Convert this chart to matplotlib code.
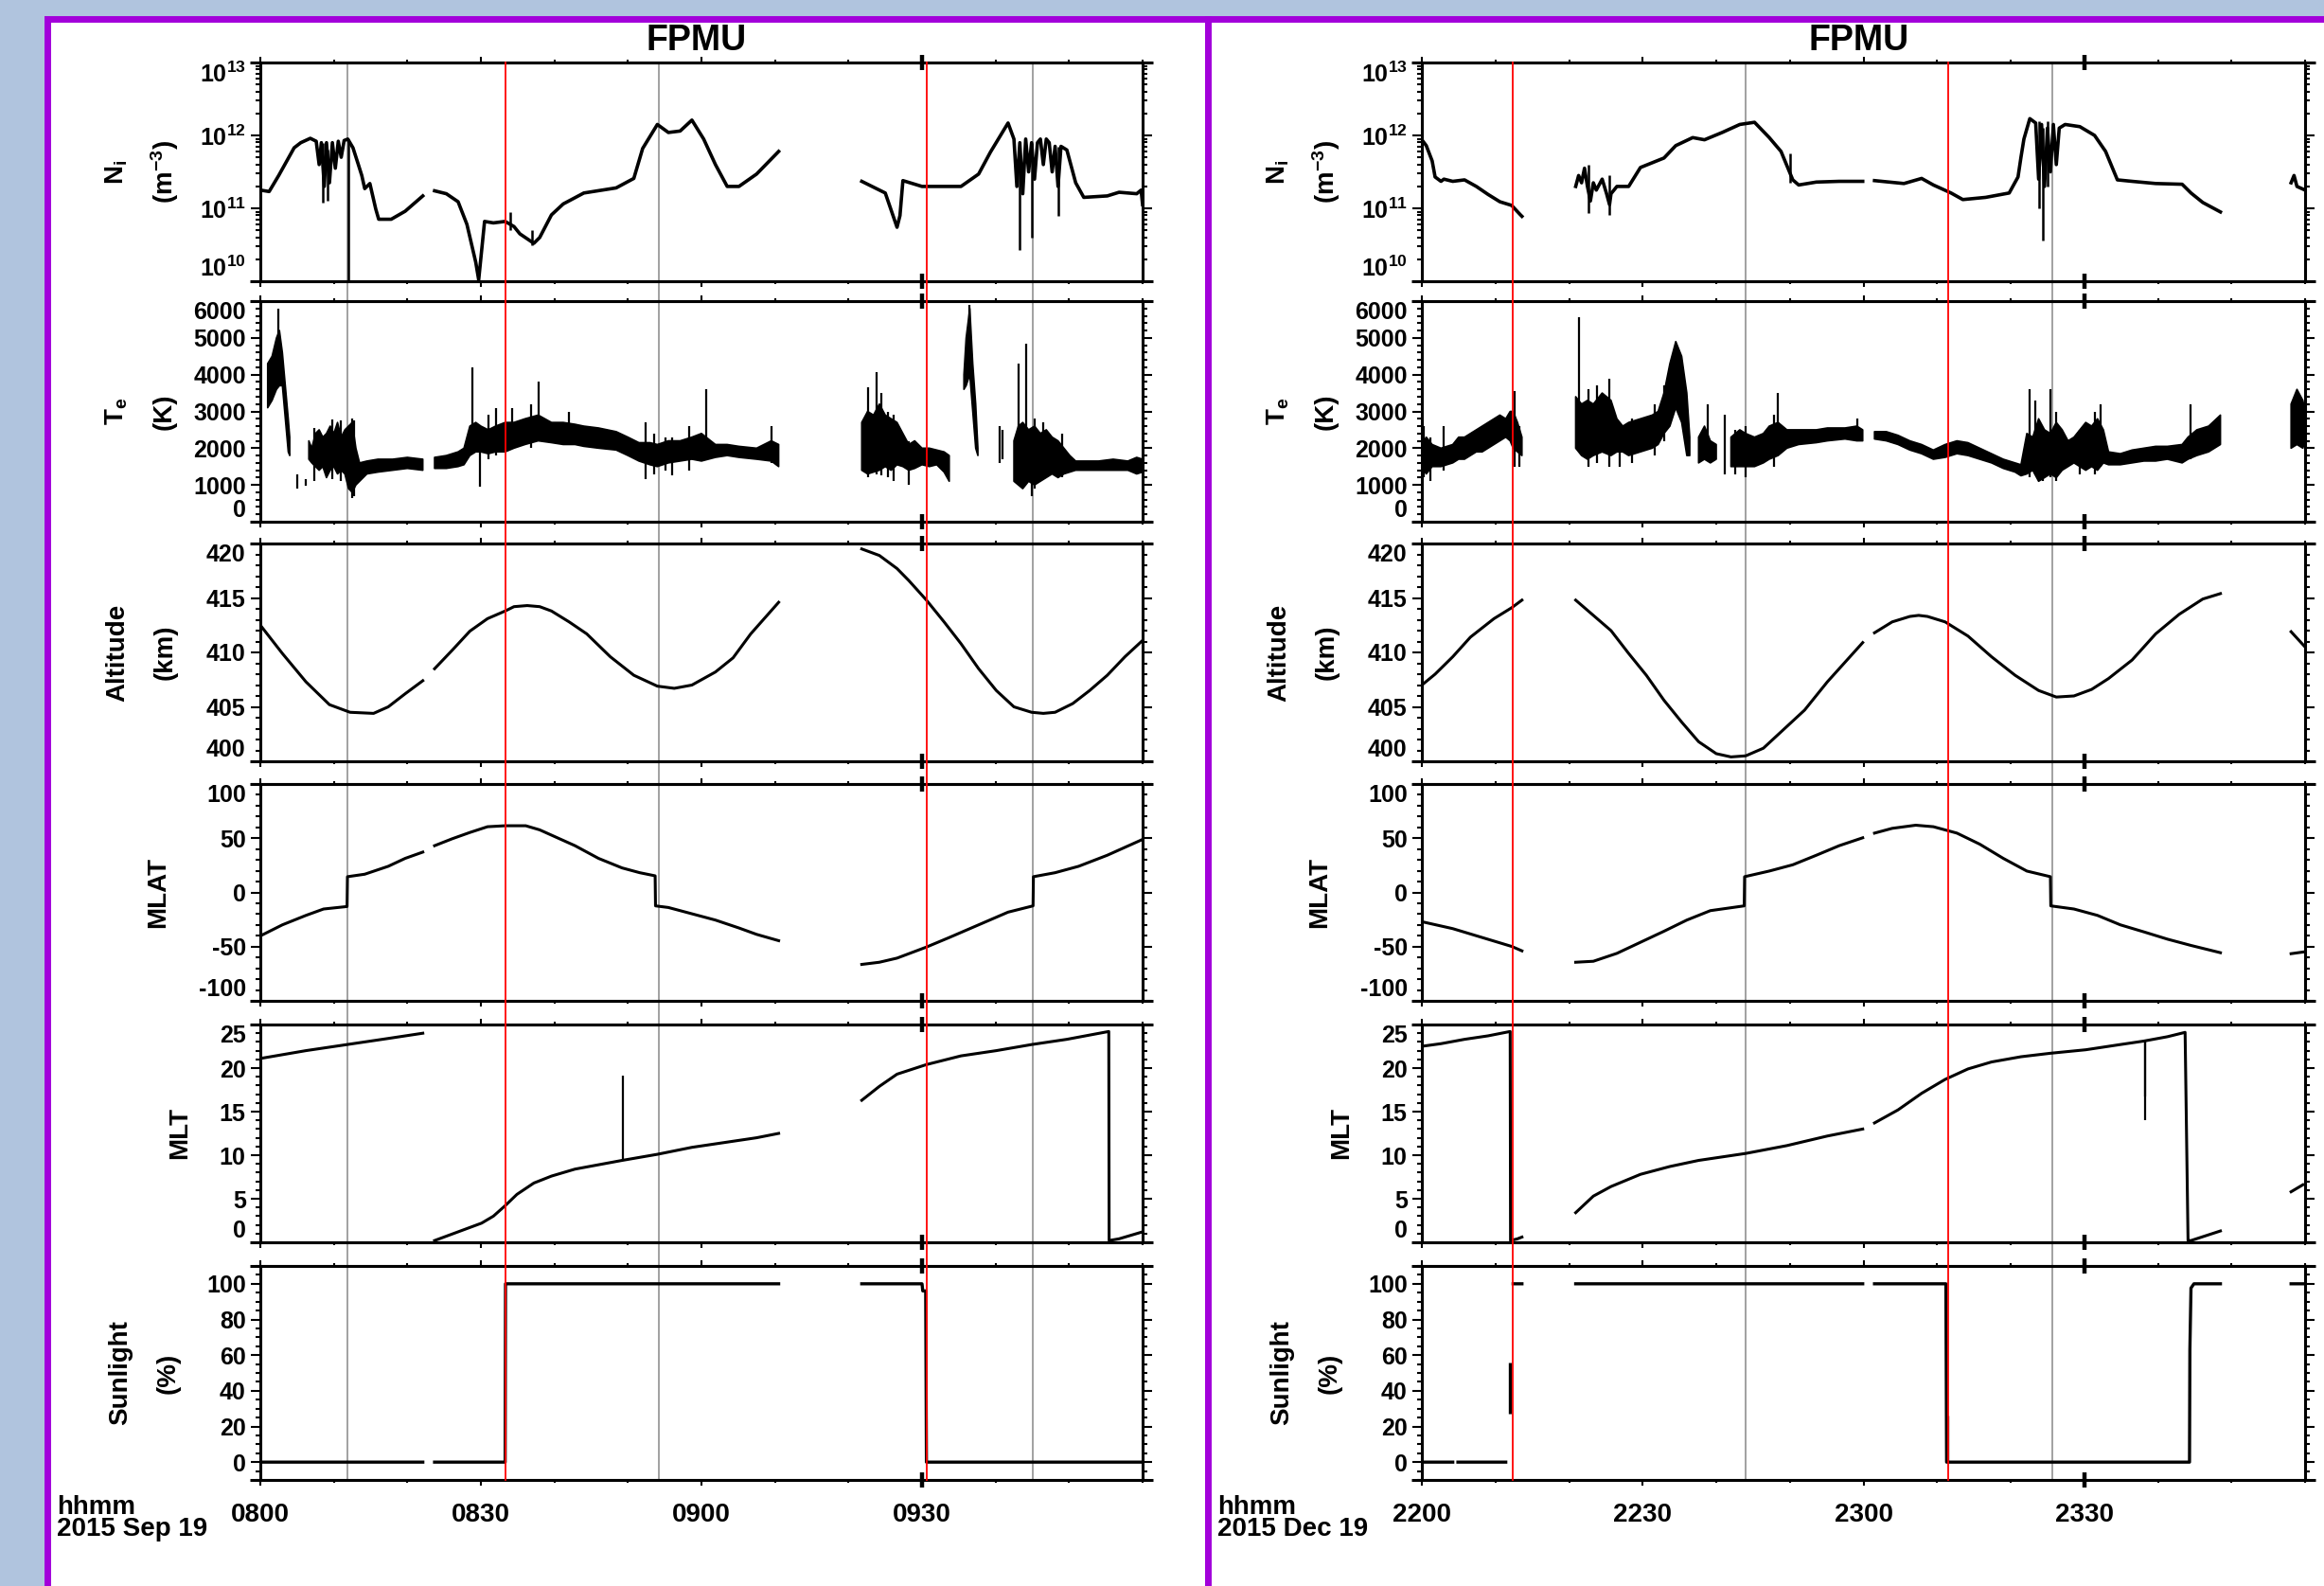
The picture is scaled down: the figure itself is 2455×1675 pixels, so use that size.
import numpy as np
import matplotlib
matplotlib.use("Agg")
import matplotlib.pyplot as plt
import matplotlib.font_manager as fm
from matplotlib.patches import Rectangle
from matplotlib.lines import Line2D
from matplotlib.ticker import FixedLocator, MultipleLocator, LogLocator, NullFormatter
from matplotlib.transforms import blended_transform_factory

nan = np.nan

# ---------------- data (time in minutes after 0800 / 2200) ----------------
L_TIME_LABELS = ["0800", "0830", "0900", "0930"]
R_TIME_LABELS = ["2200", "2230", "2300", "2330"]
L_DATE = "2015 Sep 19"
R_DATE = "2015 Dec 19"

L_RED = [33.3, 90.6]
L_GRAY = [11.9, 54.2, 105.1]
R_RED = [12.4, 71.5]
R_GRAY = [44.0, 85.6]

# Ni (log10 of m^-3)
L_NI_T = [0.0,1.2,2.5,4.6,5.5,6.8,7.6,8.0,8.3,8.7,9.0,9.4,9.8,10.2,10.6,11.0,11.4,11.9,12.6,13.3,
          13.8,14.2,14.9,15.7,16.1,17.8,19.7,22.1,nan,23.7,25.3,26.9,28.1,29.3,29.7,30.5,31.7,33.3,34.5,35.3,
          37.2,38.0,39.6,41.2,44.0,48.4,50.8,52.0,54.0,55.5,57.1,58.7,60.3,61.9,63.5,65.1,67.5,70.5,nan,81.8,
          85.0,86.6,87.0,87.4,90.0,95.3,97.7,99.3,101.7,102.5,102.9,103.3,103.7,104.1,104.5,104.9,105.3,105.7,106.1,106.5,
          106.9,107.3,107.7,108.1,108.5,108.9,109.7,110.5,110.9,112.0,115.2,116.8,119.2,119.8,120.0]
L_NI_LOG = [11.25,11.23,11.45,11.83,11.90,11.96,11.92,11.60,11.90,11.30,11.90,11.35,11.90,11.55,11.92,11.70,11.93,11.95,11.83,11.61,
            11.45,11.27,11.34,10.99,10.85,10.85,10.96,11.17,nan,11.24,11.20,11.09,10.78,10.26,10.02,10.82,10.80,10.82,10.75,10.65,
            10.52,10.60,10.91,11.06,11.21,11.28,11.41,11.82,12.15,12.04,12.06,12.21,11.95,11.60,11.30,11.30,11.47,11.78,nan,11.37,
            11.21,10.74,10.90,11.38,11.30,11.30,11.47,11.77,12.17,11.95,11.30,11.90,11.20,11.95,11.50,11.90,11.40,11.90,11.95,11.60,
            11.95,11.90,11.50,11.85,11.30,11.85,11.80,11.50,11.35,11.15,11.17,11.22,11.20,11.25,11.05]
L_NI_SPK = [(8.5, 11.08, 11.90), (9.2, 11.10, 11.80), (12.0, 10.0, 11.95), (34.0, 10.70, 10.95),
            (37.0, 10.50, 10.70), (103.3, 10.43, 11.90), (104.9, 10.60, 11.90), (108.5, 10.90, 11.85)]

R_NI_T = [0.0,0.6,1.4,1.8,2.2,2.6,3.0,4.2,5.8,7.4,9.0,10.6,12.2,13.4,13.6,nan,20.9,21.3,21.7,22.1,
          22.5,22.9,23.3,23.7,24.5,25.1,25.5,25.7,26.5,28.1,29.7,32.9,34.5,36.8,38.4,40.8,43.2,45.2,47.2,48.8,
          50.4,51.2,53.6,56.7,59.9,nan,61.5,65.5,67.9,69.5,71.9,73.5,76.6,79.8,81.0,81.4,81.8,82.6,83.4,83.8,
          84.2,84.6,85.0,85.4,85.8,86.2,86.6,87.4,89.4,91.4,92.9,94.5,96.5,99.7,103.3,104.5,106.1,108.5,nan,118.1,
          118.5,118.9,120.0]
R_NI_LOG = [11.94,11.86,11.65,11.43,11.40,11.37,11.40,11.37,11.39,11.30,11.19,11.09,11.04,10.91,10.89,nan,11.30,11.45,11.35,11.55,
            11.30,11.10,11.35,11.25,11.40,11.20,11.05,11.20,11.30,11.30,11.56,11.69,11.86,11.97,11.94,12.04,12.15,12.18,11.97,11.78,
            11.39,11.32,11.36,11.37,11.37,nan,11.38,11.34,11.41,11.32,11.21,11.12,11.15,11.21,11.43,11.70,11.95,12.23,12.17,11.40,
            12.15,11.30,12.10,11.50,12.15,11.60,12.10,12.15,12.12,12.00,11.78,11.39,11.37,11.34,11.33,11.21,11.08,10.95,nan,11.35,
            11.45,11.30,11.25]
R_NI_SPK = [(22.7, 10.93, 11.60), (25.5, 10.91, 11.45), (50.0, 11.35, 11.75),
            (83.8, 11.00, 12.20), (84.4, 10.56, 12.10), (85.0, 11.30, 12.20)]

# Te (K): band of low / high values, plus isolated spikes
L_TE_T = [1.0,1.6,2.2,2.6,3.0,3.4,3.8,4.0,nan,
          6.6,7.0,7.5,8.0,8.5,9.0,9.5,10.0,10.5,11.0,11.5,12.0,12.5,13.0,13.5,14.5,16.0,18.0,20.0,22.1,nan,
          23.7,25.3,26.9,27.7,28.5,29.3,30.0,31.0,32.0,33.3,34.5,36.0,37.8,39.6,41.2,42.8,44.0,46.0,48.4,50.0,
          51.5,53.0,54.0,55.5,57.1,58.7,60.0,61.9,63.5,65.1,67.5,69.5,70.5,nan,
          81.8,82.6,83.4,84.2,85.0,85.8,86.6,87.4,88.2,89.0,90.0,91.0,92.0,93.0,93.7,nan,
          95.7,96.0,96.5,96.9,97.3,97.6,nan,
          102.5,103.1,103.7,104.5,105.3,106.1,106.9,107.7,108.5,109.3,110.1,110.9,112.0,114.0,116.0,118.0,119.2,120.0]
L_TE_LO = [3100,3300,3600,3700,3700,2800,1900,1800,nan,
           1700,1600,1500,1400,1500,1200,1400,1500,1300,1400,1300,900,800,1000,1100,1300,1350,1400,1450,1400,nan,
           1450,1450,1500,1550,1800,1900,1900,1850,1900,1900,2000,2100,2200,2150,2100,2100,2050,2000,1950,1800,
           1650,1550,1500,1600,1650,1700,1650,1750,1800,1750,1700,1650,1500,nan,
           1400,1300,1350,1400,1500,1400,1550,1500,1400,1450,1550,1500,1550,1350,1100,nan,
           3600,3700,4000,3000,2000,1800,nan,
           1100,1000,900,1100,1000,1100,1200,1300,1200,1300,1350,1400,1400,1400,1400,1400,1300,1350]
L_TE_HI = [4300,4500,5000,5200,4600,3700,2800,2300,nan,
           2200,2000,2400,2500,2300,2400,2600,2400,2700,2300,2500,2600,2700,2000,1600,1650,1700,1700,1750,1700,nan,
           1750,1800,1900,2000,2600,2700,2600,2500,2600,2700,2700,2800,2900,2700,2700,2650,2600,2550,2450,2300,
           2150,2150,2100,2200,2200,2300,2400,2100,2100,2050,2000,2200,2100,nan,
           2700,3000,2900,3200,2900,2800,2700,2400,2100,2200,2000,2000,1950,1900,1800,nan,
           4000,5000,5800,4300,3200,2000,nan,
           2200,2600,2700,2500,2600,2400,2500,2300,2200,2000,1800,1650,1650,1650,1700,1650,1750,1700]
L_TE_SPK = [(2.4,4500,5800),(5.0,900,1280),(6.2,980,1150),(7.3,1100,2550),(9.8,1150,2780),(11.0,1100,2750),
            (12.5,650,2800),(12.8,700,2750),(28.9,1900,4200),(29.9,950,2300),(31.0,1700,2900),(32.0,1800,3100),
            (34.2,2000,3100),(36.8,2000,3200),(37.8,2400,3800),(42.0,2200,3000),(52.4,1150,2700),(53.5,1300,2400),
            (55.1,1400,2300),(56.0,1250,2300),(58.3,1400,2600),(60.7,2000,3600),(69.5,1600,2600),(82.6,1200,3650),
            (83.8,1300,4070),(84.4,1250,3500),(85.4,1200,3000),(86.2,1100,2900),(88.2,1000,2200),(96.4,4500,5900),
            (100.6,1600,2600),(100.9,1700,2500),(103.1,1100,4300),(104.1,1200,4850),(104.9,700,2400),(105.3,900,2800),
            (106.5,1300,2700),(109.0,1200,2400)]

R_TE_T = [0.0,0.6,1.4,2.6,4.2,5.0,5.8,6.6,7.4,8.2,9.0,9.8,10.6,11.4,12.0,12.4,13.0,13.6,nan,
          20.9,21.7,22.5,23.3,24.5,25.7,26.5,27.3,28.1,29.7,31.3,32.1,32.9,33.7,34.5,35.3,36.0,36.4,nan,
          37.6,38.4,39.2,40.0,nan,
          42.0,43.2,44.0,45.2,46.4,47.2,48.4,49.6,51.2,53.6,55.1,57.5,59.1,59.9,nan,
          61.5,63.1,64.7,66.3,67.9,69.5,71.1,72.7,74.2,75.8,77.4,79.0,80.6,81.4,82.2,83.0,83.8,84.6,85.4,86.2,
          87.0,87.8,88.6,89.4,90.2,91.0,91.8,92.6,93.3,94.9,96.5,98.1,99.7,101.3,103.3,104.1,105.3,106.9,108.5,nan,
          118.1,118.9,119.7,120.0]
R_TE_LO = [1500,1300,1500,1500,1600,1700,1700,1800,1900,1900,2000,2100,2200,2300,2200,2000,1900,1800,nan,
           2000,1800,1700,1800,1900,1800,1900,1900,1800,1900,2000,2100,2400,2600,3100,2700,1800,1800,nan,
           1600,1700,1600,1700,nan,
           1500,1500,1500,1500,1600,1700,1800,2000,2100,2150,2200,2250,2200,2200,nan,
           2250,2200,2100,1950,1850,1700,1750,1850,1800,1700,1600,1450,1350,1250,1300,1400,1100,1200,1300,1200,
           1400,1500,1600,1500,1400,1500,1400,1600,1550,1550,1600,1650,1650,1700,1600,1700,1800,1900,2100,nan,
           2000,2100,2000,2200]
R_TE_HI = [2100,2300,2100,2000,2100,2300,2300,2400,2500,2600,2700,2800,2900,2800,3000,3000,2700,2300,nan,
           3400,3200,3300,3200,3500,3300,2800,2600,2700,2800,2900,3000,3500,4300,4900,4500,3500,2300,nan,
           2300,2600,2200,2100,nan,
           2300,2500,2400,2300,2400,2600,2700,2500,2500,2500,2550,2550,2600,2500,nan,
           2450,2450,2350,2200,2100,1950,2100,2200,2150,2000,1850,1700,1600,1550,2400,2300,2800,2500,2400,2700,
           2500,2200,2300,2500,2700,2600,2800,2500,1900,1850,1950,2000,2050,2050,2100,2300,2500,2600,2900,nan,
           3200,3600,3300,3000]
R_TE_SPK = [(0.3,1200,2600),(1.2,1100,2300),(3.0,1400,2600),(12.6,1500,3550),(13.2,1500,2600),(21.3,2000,5550),
            (22.7,1500,3600),(23.8,1600,3700),(25.5,1500,3900),(26.9,1500,2600),(28.5,1600,2800),(31.7,1800,3200),
            (32.9,2200,3700),(38.8,2000,3200),(41.2,1300,2900),(42.6,1300,2500),(44.0,1200,2600),(47.8,1500,2900),
            (48.4,2000,3500),(59.1,2200,2800),(82.6,1200,3600),(83.4,1300,3300),(84.4,1100,2000),(85.4,1200,3600),
            (86.2,1100,3000),(89.4,1300,2500),(91.4,1300,3000),(92.2,1500,3200),(104.5,1700,3200)]

# Altitude (km)
L_ALT_T = [0.0,3.0,6.2,9.4,12.2,15.4,17.4,19.7,22.1,nan,23.7,26.1,28.5,30.9,33.3,34.5,36.3,38.0,39.6,42.0,
           44.4,47.6,50.8,54.0,56.3,58.7,61.9,64.3,66.7,70.5,nan,81.8,84.2,86.6,88.2,90.6,93.0,95.3,97.7,100.1,
           102.5,104.9,106.5,108.1,110.5,112.8,115.2,117.6,120.0]
L_ALT = [412.5,409.9,407.3,405.2,404.5,404.4,405.0,406.2,407.4,nan,408.5,410.2,411.95,413.1,413.8,414.2,414.3,414.2,413.8,412.8,
         411.7,409.6,407.9,406.9,406.7,407.0,408.2,409.5,411.7,414.6,nan,419.5,418.9,417.7,416.6,414.8,412.8,410.8,408.5,406.5,
         405.0,404.5,404.4,404.5,405.3,406.5,407.9,409.6,411.1]
R_ALT_T = [0.0,1.8,4.2,6.6,9.8,12.2,13.6,nan,20.9,23.3,25.7,28.1,30.5,32.9,35.3,37.6,40.0,42.0,44.0,46.4,
           48.8,52.0,55.1,57.5,59.9,nan,61.5,63.9,66.3,67.5,68.7,71.1,74.2,77.4,80.6,83.8,86.2,88.6,91.0,93.3,
           96.5,99.7,102.9,106.1,108.5,nan,118.1,120.0]
R_ALT = [407.0,408.0,409.6,411.4,413.1,414.1,414.8,nan,414.8,413.4,412.0,409.9,407.9,405.6,403.6,401.8,400.7,400.4,400.5,401.2,
         402.7,404.7,407.3,409.1,410.9,nan,411.8,412.8,413.3,413.4,413.3,412.8,411.5,409.6,407.9,406.5,405.9,406.0,406.6,407.6,
         409.3,411.7,413.5,414.9,415.4,nan,411.9,410.5]

# MLAT (deg)
L_MLAT_T = [0.0,3.0,6.2,8.6,11.8,11.85,14.2,17.4,19.7,22.1,nan,23.7,26.1,28.5,30.9,33.3,36.1,38.0,40.4,42.8,
            46.0,49.2,51.6,53.7,53.75,55.5,58.7,61.9,65.1,67.5,70.5,nan,81.8,84.2,86.6,90.6,93.7,97.7,101.7,105.1,
            105.15,108.1,111.3,115.2,117.6,120.0]
L_MLAT = [-40.1,-29.9,-21.2,-15.3,-13.0,14.5,16.8,24.1,31.4,37.2,nan,43.1,49.5,55.3,60.6,61.5,61.5,57.7,50.4,43.1,
          31.4,22.6,18.2,15.3,-12.4,-13.9,-19.7,-25.5,-32.8,-38.7,-44.5,nan,-66.4,-64.4,-60.6,-50.4,-41.6,-29.9,-18.2,-12.4,
          14.5,18.2,24.1,34.3,41.6,48.9]
R_MLAT_T = [0.0,4.2,8.2,12.2,13.6,nan,20.9,23.3,26.5,29.7,32.9,36.0,39.2,43.8,43.85,47.2,50.4,53.6,56.7,59.9,
            nan,61.5,63.9,67.1,69.5,72.7,75.8,79.0,82.2,85.4,85.45,88.6,91.8,94.9,98.1,101.3,104.5,108.5,nan,118.1,
            119.7]
R_MLAT = [-27.0,-33.4,-41.6,-49.8,-53.9,nan,-64.4,-63.5,-56.2,-46.0,-35.8,-25.5,-16.8,-12.4,14.5,19.7,25.5,34.3,43.1,50.4,
          nan,54.7,59.1,62.0,60.6,54.7,44.5,31.4,19.7,14.5,-12.4,-15.3,-21.2,-29.9,-36.4,-43.1,-48.9,-55.6,nan,-56.5,
          -55.0]

# MLT (h)
L_MLT_T = [0.0,6.2,11.8,17.4,22.1,nan,23.7,26.9,30.1,31.7,33.3,34.9,37.2,39.6,42.8,46.0,49.2,54.0,58.7,63.5,
           67.5,70.5,nan,81.8,84.2,86.6,90.6,95.3,100.1,104.9,109.7,115.4,115.45,116.8,120.0]
L_MLT = [21.1,22.0,22.7,23.4,24.0,nan,0.2,1.2,2.2,3.0,4.2,5.5,6.8,7.6,8.4,8.9,9.4,10.1,10.9,11.5,
         12.0,12.5,nan,16.3,17.9,19.3,20.4,21.4,22.0,22.7,23.3,24.2,0.2,0.4,1.2]
L_MLT_SPK = [(49.35, 9.4, 19.1)]
R_MLT_T = [0.0,2.6,5.8,9.0,11.4,12.0,12.05,13.0,13.6,nan,20.9,23.3,25.7,29.7,33.7,37.6,44.0,49.6,55.1,59.9,
           nan,61.5,64.7,67.9,71.1,74.2,77.4,81.4,85.4,90.2,94.9,98.1,101.3,103.7,104.1,104.5,108.5,nan,118.1,119.7]
R_MLT = [22.5,22.8,23.3,23.7,24.1,24.2,0.2,0.4,0.6,nan,3.4,5.3,6.4,7.8,8.7,9.4,10.2,11.1,12.2,13.0,
         nan,13.7,15.2,17.1,18.7,19.9,20.7,21.3,21.7,22.1,22.7,23.1,23.6,24.1,0.2,0.2,1.3,nan,5.8,6.6]
R_MLT_SPK = [(98.3, 14.0, 23.1), (98.25, 16.7, 23.1)]

# Sunlight (%)
L_SUN_T = [0.0,22.1,nan,23.7,33.3,33.35,70.5,nan,81.8,90.0,90.1,90.5,90.6,120.0]
L_SUN = [0,0,nan,0,0,100,100,nan,100,100,96,96,0,0]
L_SUN_SPK = []
R_SUN_T = [0.0,4.2,nan,4.9,11.4,nan,12.4,13.6,nan,20.9,59.9,nan,61.5,71.2,71.3,104.3,104.35,104.5,104.9,108.5,nan,118.1,120.0]
R_SUN = [0,0,nan,0,0,nan,100,100,nan,100,100,nan,100,100,0,0,63,97.6,100,100,nan,100,100]
R_SUN_SPK = [(12.0, 27.4, 55.6), (71.4, 0, 26)]

# ---------------- style / layout ----------------
W, H = 2455, 1675
avail = {f.name for f in fm.fontManager.ttflist}
FONT = next((f for f in ["Liberation Sans", "Arial", "DejaVu Sans"] if f in avail), "DejaVu Sans")
plt.rcParams["font.family"] = [FONT, "DejaVu Sans"]
plt.rcParams["font.weight"] = "bold"
plt.rcParams["mathtext.fontset"] = "custom"
plt.rcParams["mathtext.rm"] = FONT + ":bold"
plt.rcParams["mathtext.bf"] = FONT + ":bold"
plt.rcParams["mathtext.it"] = FONT + ":bold"
plt.rcParams["mathtext.default"] = "bf"
plt.rcParams["axes.unicode_minus"] = False

BG = "#B0C4DE"
PURPLE = "#A200DA"
TICK_FS = 18
LAB_FS = 20
DIVIDER = 1275.5

fig = plt.figure(figsize=(W / 100, H / 100), dpi=100, facecolor=BG)

def fx(px):
    return px / W

def fy(py):
    return 1 - py / H

# frames
fig.add_artist(Rectangle((fx(49.5), fy(1720)), fx(DIVIDER) - fx(49.5), (1720 - 19.5) / H,
                         transform=fig.transFigure, facecolor="white", edgecolor=PURPLE,
                         lw=5.0, zorder=-3))
fig.add_artist(Rectangle((fx(DIVIDER), fy(1720)), fx(2520) - fx(DIVIDER), (1720 - 19.5) / H,
                         transform=fig.transFigure, facecolor="white", edgecolor=PURPLE,
                         lw=5.0, zorder=-3))

TOPS = [66, 318, 574, 828, 1082, 1337]
BOTS = [297, 551, 804, 1057, 1312, 1563]

YCFG = {
    "Ni": dict(lim=(1e10, 1e13), major=[1e10, 1e11, 1e12, 1e13], log=True,
               labels=[r"$10^{10}$", r"$10^{11}$", r"$10^{12}$", r"$10^{13}$"], nudge=True,
               ylab=[(r"N$_{i}$", 123), (r"(m$^{-3}$)", 174)]),
    "Te": dict(lim=(0, 6000), major=list(range(0, 6001, 1000)), minor=200, nudge=True,
               labels=[str(v) for v in range(0, 6001, 1000)],
               ylab=[(r"T$_{e}$", 123), ("(K)", 174)]),
    "Alt": dict(lim=(400, 420), major=[400, 405, 410, 415, 420], minor=1, nudge=True,
                labels=["400", "405", "410", "415", "420"],
                ylab=[("Altitude", 124), ("(km)", 175)]),
    "MLAT": dict(lim=(-100, 100), major=[-100, -50, 0, 50, 100], minor=10, nudge=True,
                 labels=["-100", "-50", "0", "50", "100"], ylab=[("MLAT", 167)]),
    "MLT": dict(lim=(0, 25), major=[0, 5, 10, 15, 20, 25], minor=1, nudge=True,
                labels=["0", "5", "10", "15", "20", "25"], ylab=[("MLT", 190)]),
    "Sun": dict(lim=(-10, 110), major=[0, 20, 40, 60, 80, 100], minor=5, nudge=False,
                labels=["0", "20", "40", "60", "80", "100"],
                ylab=[("Sunlight", 127), ("(%)", 178)]),
}
ORDER = ["Ni", "Te", "Alt", "MLAT", "MLT", "Sun"]

SIDES = [
    dict(x0=275, x1=1207, dx=0, tlabels=L_TIME_LABELS, date=L_DATE, hx=60, red=L_RED, gray=L_GRAY,
         ni=(L_NI_T, L_NI_LOG, L_NI_SPK), te=(L_TE_T, L_TE_LO, L_TE_HI, L_TE_SPK),
         alt=(L_ALT_T, L_ALT), mlat=(L_MLAT_T, L_MLAT), mlt=(L_MLT_T, L_MLT, L_MLT_SPK),
         sun=(L_SUN_T, L_SUN, L_SUN_SPK)),
    dict(x0=1502, x1=2435, dx=1227, tlabels=R_TIME_LABELS, date=R_DATE, hx=1286, red=R_RED, gray=R_GRAY,
         ni=(R_NI_T, R_NI_LOG, R_NI_SPK), te=(R_TE_T, R_TE_LO, R_TE_HI, R_TE_SPK),
         alt=(R_ALT_T, R_ALT), mlat=(R_MLAT_T, R_MLAT), mlt=(R_MLT_T, R_MLT, R_MLT_SPK),
         sun=(R_SUN_T, R_SUN, R_SUN_SPK)),
]

def spikes(ax, spk, lw=1.6, logv=False):
    if not spk:
        return
    t = [s[0] for s in spk]
    lo = np.array([s[1] for s in spk], float)
    hi = np.array([s[2] for s in spk], float)
    if logv:
        lo, hi = 10 ** lo, 10 ** hi
    ax.vlines(t, lo, hi, color="k", lw=lw, zorder=3)

for side in SIDES:
    axes = []
    for i, key in enumerate(ORDER):
        top, bot = TOPS[i], BOTS[i]
        ax = fig.add_axes([fx(side["x0"]), fy(bot), (side["x1"] - side["x0"]) / W, (bot - top) / H])
        ax.set_facecolor("none")
        cfg = YCFG[key]
        ax.set_xlim(0, 120)
        if cfg.get("log"):
            ax.set_yscale("log")
            ax.yaxis.set_minor_locator(LogLocator(base=10, subs=np.arange(2, 10)))
            ax.yaxis.set_minor_formatter(NullFormatter())
        else:
            ax.yaxis.set_minor_locator(MultipleLocator(cfg["minor"]))
        ax.set_ylim(*cfg["lim"])
        ax.yaxis.set_major_locator(FixedLocator(cfg["major"]))
        ax.set_yticks(cfg["major"])
        labs = ax.set_yticklabels(cfg["labels"], fontsize=TICK_FS, fontweight="bold")
        if cfg["nudge"]:
            labs[0].set_va("bottom")
            labs[-1].set_va("top")
        ax.xaxis.set_major_locator(FixedLocator([0, 30, 60, 90]))
        ax.xaxis.set_minor_locator(MultipleLocator(10))
        ax.tick_params(axis="y", which="both", direction="out", left=True, right=True, width=1.5)
        ax.tick_params(axis="y", which="major", length=7, pad=4)
        ax.tick_params(axis="y", which="minor", length=3.6)
        ax.tick_params(axis="x", which="both", direction="out", top=True, bottom=True, width=1.5)
        ax.tick_params(axis="x", which="major", length=4.5, pad=13)
        ax.tick_params(axis="x", which="minor", length=2.5)
        if i == len(ORDER) - 1:
            ax.set_xticklabels(side["tlabels"], fontsize=20, fontweight="bold")
        else:
            ax.tick_params(axis="x", labelbottom=False)
        for sp in ax.spines.values():
            sp.set_linewidth(2.2)
        # extended horizontal frame lines
        for yy in (0, 1):
            ax.plot([-0.0115, 1.0115], [yy, yy], transform=ax.transAxes, clip_on=False,
                    color="k", lw=2.2, solid_capstyle="butt", zorder=4)
        # heavier mark at the 90-minute tick
        bt = blended_transform_factory(ax.transData, ax.transAxes)
        for yy in (0, 1):
            ax.plot([90], [yy], marker="|", ms=11, mew=3.2, color="k", transform=bt,
                    clip_on=False, zorder=4)
        # y labels
        yc = (top + bot) / 2
        for txt, xp in cfg["ylab"]:
            fig.text(fx(xp + side["dx"]), fy(yc), txt, rotation=90, ha="center", va="center",
                     fontsize=LAB_FS, fontweight="bold")
        axes.append(ax)

    a_ni, a_te, a_alt, a_mlat, a_mlt, a_sun = axes
    t, v, spk = side["ni"]
    a_ni.plot(t, 10 ** np.array(v, float), color="k", lw=2.6, zorder=3)
    spikes(a_ni, spk, lw=1.8, logv=True)

    t, lo, hi, spk = side["te"]
    a_te.fill_between(t, lo, hi, color="k", lw=1.2, zorder=3)
    spikes(a_te, spk, lw=1.6)

    t, v = side["alt"]
    a_alt.plot(t, v, color="k", lw=2.2, zorder=3)
    t, v = side["mlat"]
    a_mlat.plot(t, v, color="k", lw=2.2, zorder=3)
    t, v, spk = side["mlt"]
    a_mlt.plot(t, v, color="k", lw=2.2, zorder=3)
    spikes(a_mlt, spk, lw=1.6)
    t, v, spk = side["sun"]
    a_sun.plot(t, v, color="k", lw=2.4, zorder=3)
    spikes(a_sun, spk, lw=2.4)

    # vertical marker lines spanning all panels
    vt = blended_transform_factory(a_sun.transData, fig.transFigure)
    for tt in side["gray"]:
        fig.add_artist(Line2D([tt, tt], [fy(BOTS[-1]), fy(TOPS[0])], transform=vt,
                              color="#888888", lw=1.1, zorder=-1))
    for tt in side["red"]:
        fig.add_artist(Line2D([tt, tt], [fy(BOTS[-1]), fy(TOPS[0])], transform=vt,
                              color="#FF0000", lw=1.3, zorder=5))

    # title and time caption
    fig.text(fx((side["x0"] + side["x1"]) / 2 - 5), fy(53), "FPMU", ha="center", va="baseline",
             fontsize=27, fontweight="bold")
    fig.text(fx(side["hx"]), fy(1579), "hhmm", ha="left", va="top", fontsize=20, fontweight="bold")
    fig.text(fx(side["hx"]), fy(1602), side["date"], ha="left", va="top", fontsize=20, fontweight="bold")

fig.savefig("out.png", dpi=100, facecolor=BG)
